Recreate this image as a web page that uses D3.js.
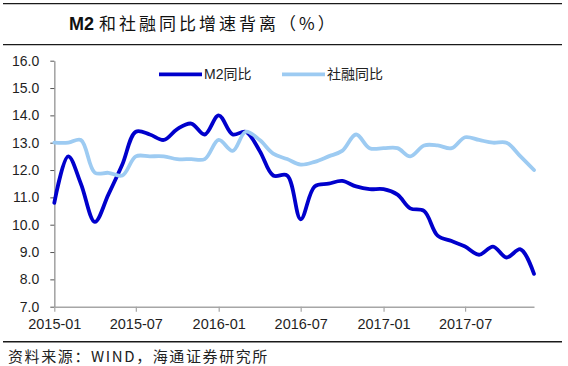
<!DOCTYPE html>
<html>
<head>
<meta charset="utf-8">
<script src="https://cdn.jsdelivr.net/npm/d3@7"></script>
<style>
  html, body { margin: 0; padding: 0; background: #fff; }
  svg { display: block; }
</style>
</head>
<body>
<div id="root"></div>
<script>
const months = [
  '2015-01', '2015-02', '2015-03', '2015-04', '2015-05', '2015-06',
  '2015-07', '2015-08', '2015-09', '2015-10', '2015-11', '2015-12',
  '2016-01', '2016-02', '2016-03', '2016-04', '2016-05', '2016-06',
  '2016-07', '2016-08', '2016-09', '2016-10', '2016-11', '2016-12',
  '2017-01', '2017-02', '2017-03', '2017-04', '2017-05', '2017-06',
  '2017-07', '2017-08', '2017-09', '2017-10', '2017-11', '2017-12'
];
const m2 = [
  10.8, 12.5, 11.5, 10.1, 11.1, 12.2, 13.4, 13.3, 13.1, 13.5, 13.7, 13.3,
  14.0, 13.3, 13.4, 12.7, 11.8, 11.8, 10.2, 11.4, 11.5, 11.6, 11.4, 11.3,
  11.3, 11.1, 10.6, 10.5, 9.6, 9.4, 9.2, 8.9, 9.2, 8.8, 9.1, 8.2
];
const tsf = [
  13.0, 13.0, 13.1, 11.9, 11.9, 11.8, 12.5, 12.5, 12.5, 12.4, 12.4, 12.4,
  13.1, 12.7, 13.4, 13.1, 12.6, 12.4, 12.2, 12.3, 12.5, 12.7, 13.3, 12.8,
  12.8, 12.8, 12.5, 12.9, 12.9, 12.8, 13.2, 13.1, 13.0, 13.0, 12.5, 12.0
];
const yTicks = [7, 8, 9, 10, 11, 12, 13, 14, 15, 16];
const xTicks = ['2015-01', '2015-07', '2016-01', '2016-07', '2017-01', '2017-07'];
const seriesNames = ['M2同比', '社融同比'];

const W = 568, H = 366;
const plot = { left: 54.3, right: 534, top: 60.7, bottom: 306.7 };
const colors = ['#0000CC', '#9DCBF2'];
const axisColor = '#A6A6A6';
const textColor = '#1f1f1f';
const latin = '"Liberation Sans", Arial, sans-serif';
const cjk = '"Liberation Sans", "Noto Sans CJK SC", sans-serif';

const parse = d3.utcParse('%Y-%m');

const svg = d3.select('#root').append('svg')
  .attr('width', W)
  .attr('height', H);

// frame rules
[3.6, 44.6, 341.7].forEach(y => {
  svg.append('line')
    .attr('x1', 3).attr('x2', 562)
    .attr('y1', y).attr('y2', y)
    .attr('stroke', '#1a1a1a')
    .attr('stroke-width', 1.4);
});

// title
const title = svg.append('text')
  .attr('x', 69)
  .attr('y', 30)
  .attr('fill', '#111');
title.append('tspan')
  .attr('font-family', latin)
  .attr('font-weight', 'bold')
  .attr('font-size', 18)
  .text('M2 ');
title.append('tspan')
  .attr('font-family', '"Noto Sans CJK SC", sans-serif')
  .attr('font-size', 17)
  .attr('letter-spacing', 3)
  .text('和社融同比增速背离（%）');

// source
svg.append('text')
  .attr('x', 8)
  .attr('y', 362)
  .attr('fill', '#222')
  .attr('font-family', '"Noto Sans CJK SC", sans-serif')
  .attr('font-size', 15)
  .attr('letter-spacing', 1.6)
  .text('资料来源：WIND，海通证券研究所');

const x = d3.scaleUtc()
  .domain([parse(months[0]), parse(months[months.length - 1])])
  .range([plot.left, plot.right]);

const y = d3.scaleLinear()
  .domain([7, 16])
  .range([plot.bottom, plot.top]);

// y axis
const yAxis = svg.append('g')
  .attr('transform', `translate(${plot.left},0)`)
  .call(d3.axisLeft(y)
    .tickValues(yTicks)
    .tickFormat(d3.format('.1f'))
    .tickSizeInner(4)
    .tickSizeOuter(0)
    .tickPadding(11));
yAxis.select('.domain').attr('stroke', axisColor).attr('stroke-width', 1.6);
yAxis.selectAll('.tick line').attr('stroke', '#555').attr('stroke-width', 1);
yAxis.selectAll('.tick text')
  .attr('font-family', latin)
  .attr('font-size', 14)
  .attr('fill', textColor);

// x axis
const xAxis = svg.append('g')
  .attr('transform', `translate(0,${plot.bottom})`)
  .call(d3.axisBottom(x)
    .tickValues(xTicks.map(parse))
    .tickFormat(d3.utcFormat('%Y-%m'))
    .tickSizeInner(5)
    .tickSizeOuter(0)
    .tickPadding(7));
xAxis.select('.domain').attr('stroke', axisColor).attr('stroke-width', 1.6);
xAxis.selectAll('.tick line').attr('stroke', axisColor).attr('stroke-width', 1.2);
xAxis.selectAll('.tick text')
  .attr('font-family', latin)
  .attr('font-size', 14.5)
  .attr('fill', textColor);

// lines
const line = d3.line()
  .x(d => x(parse(d.month)))
  .y(d => y(d.value))
  .curve(d3.curveCatmullRom.alpha(0.5));

[m2, tsf].forEach((values, i) => {
  const data = months.map((month, j) => ({ month, value: values[j] }));
  svg.append('path')
    .datum(data)
    .attr('class', 'line')
    .attr('d', line)
    .attr('fill', 'none')
    .attr('stroke', colors[i])
    .attr('stroke-width', 3.8)
    .attr('stroke-linejoin', 'round')
    .attr('stroke-linecap', 'round');
});

// legend
const legendX = [159, 282];
seriesNames.forEach((name, i) => {
  const g = svg.append('g').attr('transform', `translate(${legendX[i]},74.3)`);
  g.append('line')
    .attr('x1', 0).attr('x2', 43)
    .attr('stroke', colors[i])
    .attr('stroke-width', 3.8);
  g.append('text')
    .attr('x', 45)
    .attr('y', 5)
    .attr('font-family', cjk)
    .attr('font-size', 14)
    .attr('fill', '#222')
    .text(name);
});
</script>
</body>
</html>
